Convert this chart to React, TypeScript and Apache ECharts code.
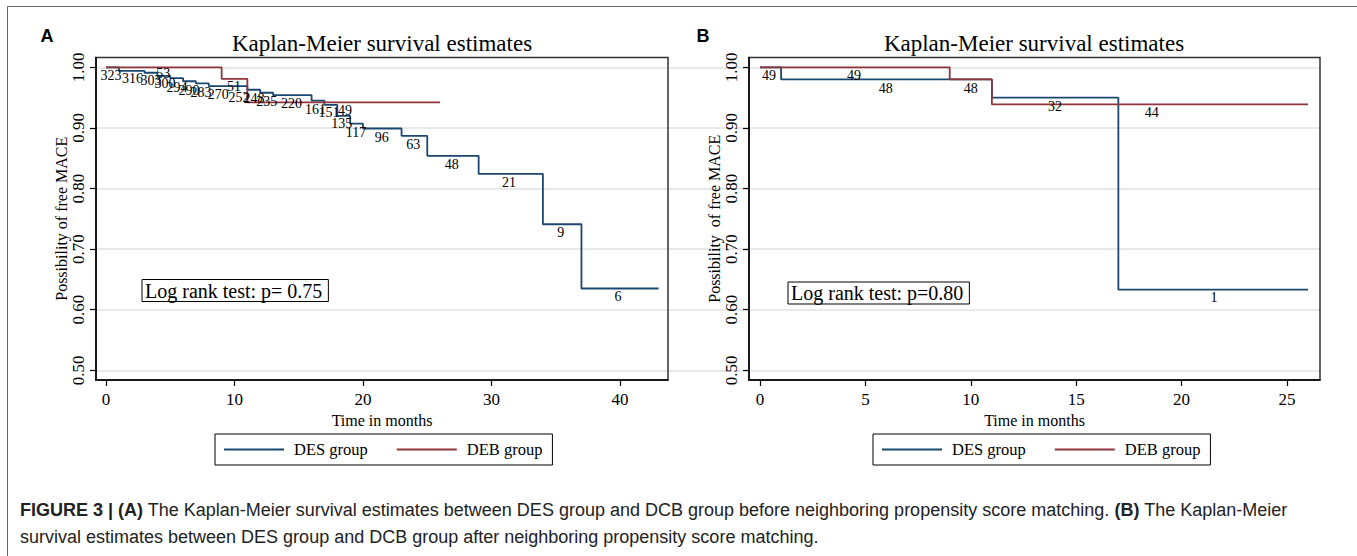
import React, { useEffect, useRef } from 'react';
import * as echarts from 'echarts';

// ---------- data ----------
const yTicks = [0.5, 0.6, 0.7, 0.8, 0.9, 1.0];
const aXTicks = [0, 10, 20, 30, 40];
const bXTicks = [0, 5, 10, 15, 20, 25];

// Panel A (before matching)
const aDesTime = [0, 1, 3, 4, 5, 6, 7, 8, 11, 12, 13, 16, 17, 18, 19, 20, 23, 25, 29, 34, 37, 43];
const aDesSurv = [1.0, 0.994, 0.991, 0.986, 0.982, 0.977, 0.9735, 0.969, 0.963, 0.958, 0.954, 0.945, 0.938, 0.92, 0.907, 0.899, 0.887, 0.854, 0.824, 0.741, 0.635, 0.635];
const aDebTime = [0, 9, 11, 26];
const aDebSurv = [1.0, 0.981, 0.942, 0.942];

// numbers at risk, panel A
const aDesRiskText = ['323', '316', '303', '300', '294', '290', '283', '270', '252', '248', '235', '220', '161', '151', '135', '117', '96', '63', '48', '21', '9', '6'];
const aDesRiskTime = [0.39, 2.06, 3.5, 4.59, 5.53, 6.46, 7.39, 8.74, 10.35, 11.52, 12.51, 14.44, 16.3, 17.35, 18.34, 19.46, 21.46, 23.91, 26.9, 31.36, 35.39, 39.84];
const aDesRiskSurv = [0.986, 0.981, 0.979, 0.973, 0.967, 0.962, 0.959, 0.955, 0.951, 0.949, 0.944, 0.941, 0.931, 0.925, 0.907, 0.892, 0.885, 0.873, 0.84, 0.81, 0.728, 0.622];
const aDebRiskText = ['53', '51', '49'];
const aDebRiskTime = [4.46, 9.96, 18.6];
const aDebRiskSurv = [0.99, 0.968, 0.928];

// Panel B (after matching)
const bDesTime = [0, 1, 11, 17, 26];
const bDesSurv = [1.0, 0.98, 0.95, 0.633, 0.633];
const bDebTime = [0, 9, 11, 26];
const bDebSurv = [1.0, 0.98, 0.939, 0.939];

const bDesRiskText = ['49', '48', '32', '1'];
const bDesRiskTime = [0.43, 5.96, 14.0, 21.54];
const bDesRiskSurv = [0.986, 0.965, 0.936, 0.62];
const bDebRiskText = ['49', '48', '44'];
const bDebRiskTime = [4.46, 10.0, 18.58];
const bDebRiskSurv = [0.987, 0.965, 0.925];

const seriesNames = ['DES group', 'DEB group'];

// ---------- style ----------
const SERIF = '"Liberation Serif", "Times New Roman", serif';
const SANS = '"Liberation Sans", Arial, sans-serif';
const DES_COLOR = '#1a476f';
const DEB_COLOR = '#90353b';
const GRID_COLOR = '#e2e2e2';

const Y_MIN = 0.484;
const Y_MAX = 1.0162;
const TOP = 57.5;
const H = 322.5;

const zip = (t: number[], v: number[]) => t.map((x, i) => [x, v[i]]);
const zip3 = (t: number[], v: number[], s: string[]) => t.map((x, i) => [x, v[i], s[i]]);

function xAxis(grid: number, min: number, max: number, ticks: number[]) {
  return {
    type: 'value', gridIndex: grid, min, max, z: 1,
    name: 'Time in months', nameLocation: 'middle', nameGap: 29,
    nameTextStyle: { fontFamily: SERIF, fontSize: 16, color: '#000' },
    axisLine: { show: true, onZero: false, lineStyle: { color: '#000', width: 1.5 } },
    axisTick: { show: true, length: 6, customValues: ticks, lineStyle: { color: '#000', width: 1.2 } },
    axisLabel: { customValues: ticks, margin: 11, color: '#000', fontFamily: SERIF, fontSize: 17 },
    splitLine: { show: false },
  };
}

function yAxis(grid: number, name: string) {
  return {
    type: 'value', gridIndex: grid, min: Y_MIN, max: Y_MAX, z: 1,
    name, nameLocation: 'middle', nameGap: 26, nameRotate: 90,
    nameTextStyle: { fontFamily: SERIF, fontSize: 16, color: '#000' },
    axisLine: { show: true, onZero: false, lineStyle: { color: '#000', width: 1.5 } },
    axisTick: { show: true, length: 6, customValues: yTicks, lineStyle: { color: '#000', width: 1.2 } },
    axisLabel: {
      customValues: yTicks, rotate: 90, margin: 9, color: '#000', fontFamily: SERIF, fontSize: 17,
      formatter: (v: number) => v.toFixed(2),
    },
    splitLine: { show: false },
  };
}

function kmLine(name: string, color: string, grid: number, data: number[][], z: number) {
  return {
    name, type: 'line', xAxisIndex: grid, yAxisIndex: grid, step: 'end', symbol: 'none',
    data, z, lineStyle: { color, width: 1.8 }, itemStyle: { color },
  };
}

function riskLabels(name: string, grid: number, data: any[]) {
  return {
    name, type: 'scatter', xAxisIndex: grid, yAxisIndex: grid, symbolSize: 1, z: 6,
    color: '#000',
    itemStyle: { color: '#000', opacity: 0 }, data,
    label: {
      show: true, position: 'inside', formatter: (p: any) => p.value[2],
      color: '#000', textBorderWidth: 0, textBorderColor: 'transparent', opacity: 1,
      fontFamily: SERIF, fontSize: 14,
    },
    emphasis: { disabled: true },
  };
}

function legend(left: number) {
  return {
    left, top: 434, orient: 'horizontal', data: seriesNames, selectedMode: false,
    itemWidth: 60, itemHeight: 2, itemGap: 28, padding: [7, 10, 7, 8],
    itemStyle: { opacity: 0 },
    borderColor: '#000', borderWidth: 1,
    textStyle: { fontFamily: SERIF, fontSize: 16.5, color: '#000', padding: [0, 0, 0, 5], lineHeight: 16 },
  };
}

function txt(text: string, x: number, y: number, font: string, extra: any = {}) {
  return {
    type: 'text', x, y, silent: true,
    style: { text, font, fill: '#000', align: 'center', verticalAlign: 'middle', textAlign: 'center', textVerticalAlign: 'middle', ...extra },
  };
}

export default function App() {
  const ref = useRef<HTMLDivElement>(null);
  useEffect(() => {
    if (!ref.current) return;
    const chart = echarts.init(ref.current, undefined, { renderer: 'svg' });

    const aPx = 12.85; // px per month panel A
    const aMin = (96 - 106) / aPx;
    const aMax = aMin + 572 / aPx;
    const bPx = 21.08;
    const bMin = (749 - 760) / bPx;
    const bMax = bMin + 571 / bPx;

    const option: any = {
      animation: false,
      backgroundColor: '#fff',
      grid: [
        { left: 96, top: TOP, width: 572, height: H, show: true, borderColor: '#333', borderWidth: 1.5, z: 1 },
        { left: 749, top: TOP, width: 571, height: H, show: true, borderColor: '#333', borderWidth: 1.5, z: 1 },
        { left: 96, top: TOP, width: 1224, height: H, show: false, z: 0 },
      ],
      xAxis: [
        xAxis(0, aMin, aMax, aXTicks),
        xAxis(1, bMin, bMax, bXTicks),
        { type: 'value', gridIndex: 2, min: 0, max: 1, show: false },
      ],
      yAxis: [
        yAxis(0, 'Possibility of free MACE'),
        yAxis(1, 'Possibility  of free MACE'),
        {
          type: 'value', gridIndex: 2, min: Y_MIN, max: Y_MAX, z: 0,
          axisLine: { show: false }, axisTick: { show: false, customValues: yTicks },
          axisLabel: { show: false, customValues: yTicks },
          splitLine: { show: true, lineStyle: { color: GRID_COLOR, width: 1.5 } },
        },
      ],
      legend: [legend(215), legend(873)],
      series: [
        kmLine('DES group', DES_COLOR, 0, zip(aDesTime, aDesSurv), 3),
        kmLine('DEB group', DEB_COLOR, 0, zip(aDebTime, aDebSurv), 4),
        kmLine('DES group', DES_COLOR, 1, zip(bDesTime, bDesSurv), 3),
        kmLine('DEB group', DEB_COLOR, 1, zip(bDebTime, bDebSurv), 4),
        riskLabels('aDesRisk', 0, zip3(aDesRiskTime, aDesRiskSurv, aDesRiskText)),
        riskLabels('aDebRisk', 0, zip3(aDebRiskTime, aDebRiskSurv, aDebRiskText)),
        riskLabels('bDesRisk', 1, zip3(bDesRiskTime, bDesRiskSurv, bDesRiskText)),
        riskLabels('bDebRisk', 1, zip3(bDebRiskTime, bDebRiskSurv, bDebRiskText)),
      ],
      graphic: [
        { type: 'polyline', silent: true, shape: { points: [[7.5, 560], [7.5, 6.5], [1360, 6.5]] }, style: { stroke: '#666', lineWidth: 1, fill: 'none' } },
        txt('A', 47, 36, `bold 18px ${SANS}`),
        txt('B', 703, 36, `bold 18px ${SANS}`),
        txt('Kaplan-Meier survival estimates', 382, 43, `23px ${SERIF}`),
        txt('Kaplan-Meier survival estimates', 1034, 43, `23px ${SERIF}`),
        {
          type: 'text', x: 142, y: 279.5, silent: true,
          style: { text: 'Log rank test: p= 0.75', font: `20px ${SERIF}`, fill: '#000', borderColor: '#000', borderWidth: 1, padding: [1, 6, 1, 3] },
        },
        {
          type: 'text', x: 788, y: 282, silent: true,
          style: { text: 'Log rank test: p=0.80', font: `20px ${SERIF}`, fill: '#000', borderColor: '#000', borderWidth: 1, padding: [1, 6, 1, 3] },
        },
        {
          type: 'text', x: 20, y: 510, silent: true,
          style: {
            text: '{b|FIGURE 3 | (A)} The Kaplan-Meier survival estimates between DES group and DCB group before neighboring propensity score matching. {b|(B)} The Kaplan-Meier',
            font: `18px ${SANS}`, fill: '#222', verticalAlign: 'middle', textVerticalAlign: 'middle',
            rich: { b: { fontWeight: 'bold', fontFamily: SANS, fontSize: 18, fill: '#222', color: '#222' } },
          },
        },
        {
          type: 'text', x: 20, y: 537, silent: true,
          style: {
            text: 'survival estimates between DES group and DCB group after neighboring propensity score matching.',
            font: `18px ${SANS}`, fill: '#222', verticalAlign: 'middle', textVerticalAlign: 'middle',
          },
        },
      ],
    };
    chart.setOption(option);
    return () => chart.dispose();
  }, []);
  return <div ref={ref} style={{ position: 'absolute', left: 0, top: 0, width: 1357, height: 556 }} />;
}
